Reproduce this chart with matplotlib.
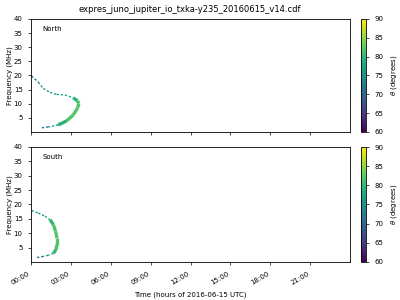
#!/usr/bin/env python3
""" ExPRES Juno / Io-DAM emission plot (North and South hemispheres) """
import datetime as dt

import matplotlib

matplotlib.use("Agg")
import matplotlib.dates as mdates
import matplotlib.pyplot as plt
import numpy as np
from matplotlib.collections import LineCollection

TITLE = "expres_juno_jupiter_io_txka-y235_20160615_v14.cdf"
DAY = dt.datetime(2016, 6, 15)

# North source: time (hours), frequency (MHz), theta (degrees)
north_time = [0.05, 0.55, 0.93, 1.43, 1.93, 2.55, 3.17, 3.5, 3.6, 3.5, 3.17, 2.67, 2.05, 1.3, 0.67]
north_freq = [19.8, 17.6, 15.4, 14.0, 13.3, 13.1, 12.1, 11.0, 10.1, 8.4, 6.0, 3.9, 2.5, 1.8, 1.4]
north_theta = [66, 74, 76, 77, 77, 77, 78, 81, 82, 82, 82, 81, 77, 75, 67]

# South source
south_time = [0.05, 0.55, 1.05, 1.43, 1.68, 1.85, 1.95, 1.95, 1.88, 1.68, 1.3, 0.93, 0.43]
south_freq = [17.9, 17.0, 15.9, 14.7, 13.0, 10.6, 8.3, 6.0, 4.2, 3.0, 2.3, 1.9, 1.5]
south_theta = [75, 76, 77, 79, 81, 82, 82, 82, 81, 78, 76, 74, 67]

hemispheres = ["North", "South"]
tick_hours = [0, 3, 6, 9, 12, 15, 18, 21]

cmap = plt.get_cmap("viridis")
norm = matplotlib.colors.Normalize(vmin=60, vmax=90)


def to_dates(hours):
    """Hours of the day to matplotlib date numbers"""
    return mdates.date2num([DAY + dt.timedelta(hours=h) for h in hours])


def draw_source(ax, time, freq, theta):
    """Draw the emission curve as coloured segments"""
    x = to_dates(time)
    pts = np.column_stack([x, freq])
    segs = np.stack([pts[:-1], pts[1:]], axis=1)
    seg_theta = (np.array(theta[:-1]) + np.array(theta[1:])) / 2.0
    widths = [2.4 if t >= 79.0 else 1.0 for t in seg_theta]
    styles = ["solid" if t >= 79.0 else (0, (1.6, 1.4)) for t in seg_theta]
    lc = LineCollection(segs, cmap=cmap, norm=norm, linewidths=widths,
                        linestyles=styles, capstyle="butt")
    lc.set_array(seg_theta)
    ax.add_collection(lc)
    return lc


plt.rcParams["font.size"] = 5
fig = plt.figure(figsize=(4, 3), dpi=100)
fig.suptitle(TITLE, fontsize=6, x=0.475, y=0.985)

ax_pos = [[0.0775, 0.56, 0.7975, 0.377], [0.0775, 0.127, 0.7975, 0.383]]
cb_pos = [[0.9025, 0.56, 0.0135, 0.377], [0.9025, 0.127, 0.0135, 0.383]]
data = [(north_time, north_freq, north_theta), (south_time, south_freq, south_theta)]

axes = []
for i, name in enumerate(hemispheres):
    ax = fig.add_axes(ax_pos[i], sharex=axes[0] if axes else None)
    draw_source(ax, *data[i])
    ax.set_xlim(to_dates([0, 24]))
    ax.set_ylim(0, 40)
    ax.set_yticks([5, 10, 15, 20, 25, 30, 35, 40])
    ax.set_ylabel("Frequency (MHz)", fontsize=5)
    ax.yaxis.set_label_coords(-0.055, 0.5)
    ax.text(0.035, 0.91, name, transform=ax.transAxes, fontsize=5, va="center")
    ax.set_xticks(to_dates(tick_hours))
    ax.xaxis.set_major_formatter(mdates.DateFormatter("%H:%M"))
    ax.tick_params(labelsize=5, length=2.5, width=0.5)
    for sp in ax.spines.values():
        sp.set_linewidth(0.6)

    cax = fig.add_axes(cb_pos[i])
    sm = plt.cm.ScalarMappable(norm=norm, cmap=cmap)
    cb = fig.colorbar(sm, cax=cax, ticks=[60, 65, 70, 75, 80, 85, 90])
    cb.set_label(r"$\theta$ (degrees)", fontsize=5)
    cb.ax.tick_params(labelsize=5, length=2, width=0.5)
    cb.outline.set_linewidth(0.6)
    axes.append(ax)

axes[0].tick_params(labelbottom=False)
for lab in axes[1].get_xticklabels():
    lab.set_rotation(30)
    lab.set_ha("right")
axes[1].set_xlabel("Time (hours of 2016-06-15 UTC)", fontsize=5)

fig.savefig("out.png", dpi=100)
